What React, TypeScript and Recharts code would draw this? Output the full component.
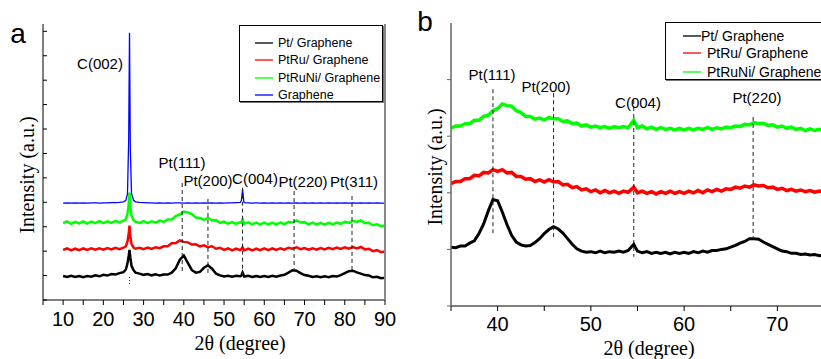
import React from "react";
import { LineChart, Line, XAxis, YAxis, ReferenceLine } from "recharts";

// ---- panel a: full scan 10-90 deg ----
const xA = [
  10, 11, 12, 13, 14, 15, 16, 17, 18, 19, 20, 21, 22, 23, 24, 25,
  25.6, 26, 26.3, 26.5, 26.7, 27, 27.5, 28,
  29, 30, 31, 32, 33, 34, 35, 36, 37, 38, 39, 40, 41, 42, 43, 44, 45, 46, 47, 48, 49, 50, 51, 52, 53, 54,
  54.3, 54.6, 54.9,
  55, 56, 57, 58, 59, 60, 61, 62, 63, 64, 65, 66, 67, 68, 69, 70, 71, 72, 73, 74, 75, 76, 77, 78, 79, 80, 81, 82, 83, 84, 85, 86, 87, 88, 89, 90,
];
const grapheneA = [
  3.97, 3.98, 3.97, 3.98, 3.97, 3.98, 3.97, 3.98, 3.98, 3.97, 3.98, 3.98, 3.99, 3.99, 4.0, 4.02,
  4.08, 4.35, 6.6, 10.94, 6.2, 4.35, 4.08, 4.02,
  4.0, 3.99, 3.98, 3.98, 3.97, 3.98, 3.97, 3.98, 3.97, 3.98, 3.98, 3.97, 3.98, 3.97, 3.98, 3.97, 3.98, 3.97, 3.98, 3.97, 3.98, 3.97, 3.98, 3.98, 3.99, 4.0,
  4.06, 4.52, 4.06,
  3.99, 3.98, 3.97, 3.98, 3.97, 3.98, 3.97, 3.98, 3.97, 3.98, 3.97, 3.98,
  3.97, 3.98, 3.97, 3.98, 3.97, 3.98, 3.97, 3.98, 3.97, 3.98, 3.97, 3.98,
  3.97, 3.98, 3.97, 3.98, 3.97, 3.98, 3.97, 3.98, 3.97, 3.98, 3.97, 3.97,
];
const ptRuNiA = [
  3.15, 3.22, 3.12, 3.2, 3.14, 3.22, 3.13, 3.21, 3.15, 3.23, 3.15, 3.22, 3.16, 3.24, 3.18, 3.25,
  3.3, 3.55, 3.9, 4.4, 3.8, 3.45, 3.28, 3.2,
  3.16, 3.23, 3.15, 3.22, 3.17, 3.25, 3.2, 3.3, 3.3, 3.44, 3.5, 3.62, 3.58, 3.52, 3.38, 3.36, 3.28, 3.36, 3.26, 3.27, 3.16, 3.21, 3.13, 3.19, 3.12, 3.18,
  3.16, 3.3, 3.17,
  3.12, 3.18, 3.1, 3.17, 3.1, 3.17, 3.1, 3.16, 3.1, 3.17, 3.11, 3.19, 3.17, 3.26, 3.17, 3.19, 3.1, 3.17, 3.09, 3.16, 3.09, 3.16, 3.1, 3.17, 3.12, 3.2, 3.16, 3.24, 3.2, 3.26, 3.14, 3.16, 3.06, 3.1, 3.02, 3.05,
];
const ptRuA = [
  2.05, 2.11, 2.03, 2.1, 2.04, 2.11, 2.05, 2.12, 2.06, 2.12, 2.06, 2.13, 2.07, 2.14, 2.08, 2.14,
  2.2, 2.4, 2.7, 3.05, 2.6, 2.3, 2.15, 2.1,
  2.14, 2.08, 2.15, 2.09, 2.16, 2.12, 2.2, 2.2, 2.32, 2.33, 2.44, 2.38, 2.36, 2.27, 2.28, 2.19, 2.24, 2.16, 2.2, 2.1, 2.14, 2.05, 2.11, 2.03, 2.1, 2.04,
  2.08, 2.16, 2.06,
  2.03, 2.1, 2.03, 2.1, 2.04, 2.11, 2.04, 2.11, 2.05, 2.12, 2.06, 2.14, 2.1, 2.16, 2.08, 2.13, 2.06, 2.12, 2.06, 2.13, 2.07, 2.14, 2.08, 2.15, 2.09, 2.16, 2.1, 2.17, 2.11, 2.17, 2.07, 2.1, 2.0, 2.04, 1.96, 1.99,
];
const ptA = [
  0.98, 0.94, 0.99, 0.94, 0.98, 0.93, 0.98, 0.95, 1.01, 0.97, 1.03, 1.0, 1.06, 1.04, 1.1, 1.14,
  1.25, 1.5, 1.8, 2.05, 1.75, 1.4, 1.22, 1.12,
  1.08, 1.03, 1.06, 1.01, 1.05, 1.0, 1.04, 1.04, 1.12, 1.3, 1.65, 1.82, 1.52, 1.22, 1.12, 1.15, 1.32, 1.42, 1.28, 1.08, 1.01, 0.96, 0.99, 0.95, 0.99, 0.97,
  1.0, 1.12, 1.0,
  0.96, 0.99, 0.94, 0.98, 0.94, 0.98, 0.94, 0.99, 0.95, 1.0, 1.03, 1.12, 1.22, 1.2, 1.1, 1.02, 0.99, 0.94, 0.97, 0.93, 0.97, 0.93, 0.98, 0.96, 1.02, 1.1, 1.18, 1.2, 1.13, 1.08, 1.02, 1.0, 0.93, 0.95, 0.89, 0.91,
];
const ticksXA = [5, 10, 15, 20, 25, 30, 35, 40, 45, 50, 55, 60, 65, 70, 75, 80, 85, 90];
const ticksYA = [0, 1, 2, 3, 4, 5, 6, 7, 8, 9, 10, 11];

// ---- panel b: zoom 35-75 deg ----
const xB = [
  35, 35.5, 36, 36.5, 37, 37.5, 38, 38.5, 39, 39.5,
  40, 40.5, 41, 41.5, 42, 42.5, 43, 43.5, 44, 44.5,
  45, 45.5, 46, 46.5, 47, 47.5, 48, 48.5, 49, 49.5,
  50, 50.5, 51, 51.5, 52, 52.5, 53, 53.5, 54, 54.6,
  55, 55.5, 56, 56.5, 57, 57.5, 58, 58.5, 59, 59.5,
  60, 60.5, 61, 61.5, 62, 62.5, 63, 63.5, 64, 64.5,
  65, 65.5, 66, 66.5, 67, 67.5, 68, 68.5, 69, 69.5,
  70, 70.5, 71, 71.5, 72, 72.5, 73, 73.5, 74, 74.5,
  75,
];
const ptB = [
  1.04, 1.03, 1.06, 1.06, 1.11, 1.15, 1.28, 1.45, 1.68, 1.88,
  1.86, 1.66, 1.44, 1.25, 1.13, 1.08, 1.06, 1.07, 1.12, 1.19,
  1.28, 1.35, 1.4, 1.36, 1.29, 1.19, 1.09, 1.01, 0.97, 0.95,
  0.96, 0.94, 0.97, 0.94, 0.96, 0.95, 0.97, 0.95, 0.98, 1.09,
  0.97, 0.94, 0.96, 0.93, 0.95, 0.93, 0.95, 0.92, 0.95, 0.93,
  0.95, 0.93, 0.96, 0.94, 0.97, 0.95, 0.98, 0.98, 1.0, 1.01,
  1.04, 1.07, 1.11, 1.14, 1.19, 1.19, 1.18, 1.13, 1.09, 1.05,
  1.01, 0.97, 0.96, 0.93, 0.93, 0.91, 0.92, 0.9, 0.91, 0.89,
  0.9,
];
const ptRuB = [
  2.16, 2.2, 2.2, 2.25, 2.25, 2.31, 2.3, 2.36, 2.35, 2.41,
  2.38, 2.41, 2.35, 2.36, 2.29, 2.29, 2.24, 2.25, 2.2, 2.23,
  2.19, 2.23, 2.19, 2.2, 2.14, 2.15, 2.09, 2.11, 2.05, 2.07,
  2.02, 2.05, 2.0, 2.04, 2.0, 2.03, 1.99, 2.03, 2.01, 2.1,
  2.0, 2.03, 1.99, 2.02, 1.98, 2.02, 1.99, 2.03, 1.99, 2.02,
  1.99, 2.03, 2.0, 2.04, 2.0, 2.05, 2.02, 2.06, 2.03, 2.07,
  2.06, 2.1, 2.08, 2.12, 2.1, 2.14, 2.12, 2.13, 2.09, 2.1,
  2.06, 2.08, 2.04, 2.06, 2.03, 2.05, 2.02, 2.04, 2.01, 2.03,
  2.01,
];
const ptRuNiB = [
  3.14, 3.18, 3.18, 3.22, 3.22, 3.28, 3.28, 3.35, 3.37, 3.45,
  3.49, 3.57, 3.54, 3.53, 3.45, 3.42, 3.35, 3.35, 3.3, 3.32,
  3.29, 3.33, 3.31, 3.31, 3.26, 3.27, 3.22, 3.23, 3.18, 3.2,
  3.16, 3.18, 3.15, 3.17, 3.14, 3.17, 3.15, 3.17, 3.15, 3.28,
  3.15, 3.18, 3.13, 3.16, 3.12, 3.15, 3.12, 3.14, 3.11, 3.14,
  3.11, 3.14, 3.11, 3.14, 3.12, 3.15, 3.12, 3.15, 3.13, 3.16,
  3.15, 3.18, 3.17, 3.21, 3.2, 3.24, 3.22, 3.23, 3.19, 3.2,
  3.16, 3.18, 3.14, 3.16, 3.12, 3.14, 3.1, 3.13, 3.1, 3.12,
  3.1,
];
const ticksXB = [35, 40, 45, 50, 55, 60, 65, 70, 75];
const ticksYB = [0, 1, 2, 3, 4];

// peak marker lines (x position, top, bottom in data units)
const dashA = [
  { x: 39.6, y1: 4.79, y2: 1.11 },
  { x: 46, y1: 4.14, y2: 1.11 },
  { x: 54.6, y1: 4.6, y2: 0.95 },
  { x: 67.4, y1: 4.46, y2: 1.23 },
  { x: 81.8, y1: 4.26, y2: 1.23 },
];
const dotA = { x: 26.5, y1: 0.94, y2: 0.57 };
const dashB = [
  { x: 39.5, y1: 3.83, y2: 1.25 },
  { x: 46, y1: 3.76, y2: 1.22 },
  { x: 54.6, y1: 3.64, y2: 0.87 },
  { x: 67.4, y1: 3.34, y2: 1.22 },
];

const rowsA = xA.map((x, i) => ({ x, pt: ptA[i], ptru: ptRuA[i], ptruni: ptRuNiA[i], gr: grapheneA[i] }));
const rowsB = xB.map((x, i) => ({ x, pt: ptB[i], ptru: ptRuB[i], ptruni: ptRuNiB[i] }));

const SANS = '"Liberation Sans", Arial, Helvetica, sans-serif';
const SERIF = '"Liberation Serif", "Times New Roman", serif';

const Tag = ({ x, y, size = 15, children, font = SANS }: any) => (
  <div
    style={{
      position: "absolute",
      left: x,
      top: y,
      transform: "translate(-50%, -50%)",
      fontSize: size,
      fontFamily: font,
      lineHeight: 1,
      whiteSpace: "nowrap",
      color: "#000",
    }}
  >
    {children}
  </div>
);

// legend sample line drawn as an svg stroke so the colour stays crisp
const LegendRow = ({ y, lx, tx, color, size, children }: any) => (
  <>
    <svg style={{ position: "absolute", left: lx, top: y - 2 }} width={18} height={4}>
      <line x1={0} y1={2} x2={18} y2={2} stroke={color} strokeWidth={1.3} />
    </svg>
    <div
      style={{
        position: "absolute",
        left: tx,
        top: y,
        transform: "translateY(-50%)",
        fontSize: size,
        lineHeight: 1,
        whiteSpace: "nowrap",
      }}
    >
      {children}
    </div>
  </>
);

const VTitle = ({ x, y }: any) => (
  <div
    style={{
      position: "absolute",
      left: x,
      top: y,
      transform: "translate(-50%, -50%) rotate(-90deg)",
      fontFamily: SERIF,
      fontSize: 20,
      lineHeight: 1,
      whiteSpace: "nowrap",
    }}
  >
    Intensity (a.u.)
  </div>
);

const blank = () => "";
const tens = (v: number) => (v % 10 === 0 ? String(v) : "");

export default function App() {
  return (
    <div
      style={{
        position: "absolute",
        left: 0,
        top: 0,
        width: 821,
        height: 359,
        overflow: "hidden",
        background: "#fff",
        fontFamily: SANS,
      }}
    >
      {/* panel a */}
      <div style={{ position: "absolute", left: 0, top: 0 }}>
        <LineChart width={400} height={359} data={rowsA} margin={{ top: 24, right: 0, left: 43, bottom: 29 }}>
          <XAxis
            dataKey="x"
            type="number"
            domain={[5, 90]}
            ticks={ticksXA}
            interval={0}
            tickFormatter={tens}
            tick={{ fontSize: 20, fill: "#000", fontFamily: SANS }}
            tickSize={5}
            tickMargin={7}
            axisLine={{ stroke: "#000" }}
            tickLine={{ stroke: "#000" }}
            height={30}
            allowDataOverflow
          />
          <XAxis
            xAxisId="top"
            orientation="top"
            dataKey="x"
            type="number"
            domain={[5, 90]}
            ticks={ticksXA}
            interval={0}
            tickFormatter={blank}
            mirror
            tickSize={3}
            axisLine={{ stroke: "#000" }}
            tickLine={{ stroke: "#000" }}
            height={0}
          />
          <YAxis
            type="number"
            domain={[0, 11.3]}
            ticks={ticksYA}
            interval={0}
            tickFormatter={blank}
            mirror
            tickSize={4}
            width={43}
            axisLine={{ stroke: "#000" }}
            tickLine={{ stroke: "#000" }}
          />
          <YAxis
            yAxisId="r"
            orientation="right"
            type="number"
            domain={[0, 11.3]}
            ticks={ticksYA}
            interval={0}
            tickFormatter={blank}
            tickSize={4}
            width={15}
            axisLine={{ stroke: "#888", strokeWidth: 2 }}
            tickLine={{ stroke: "#888" }}
          />
          <Line dataKey="pt" stroke="#000" strokeWidth={2.5} dot={false} isAnimationActive={false} />
          <Line dataKey="ptru" stroke="#ff0000" strokeWidth={2.5} dot={false} isAnimationActive={false} />
          <Line dataKey="ptruni" stroke="#00ff00" strokeWidth={2.5} dot={false} isAnimationActive={false} />
          <Line dataKey="gr" stroke="#0000ff" strokeWidth={1.3} dot={false} isAnimationActive={false} />
          {dashA.map((d) => (
            <ReferenceLine
              key={d.x}
              segment={[{ x: d.x, y: d.y1 }, { x: d.x, y: d.y2 }]}
              stroke="#222"
              strokeDasharray="4 3"
            />
          ))}
          <ReferenceLine
            segment={[{ x: dotA.x, y: dotA.y1 }, { x: dotA.x, y: dotA.y2 }]}
            stroke="#222"
            strokeDasharray="1 2"
          />
        </LineChart>
      </div>

      {/* panel b */}
      <div style={{ position: "absolute", left: 410, top: 0 }}>
        <LineChart width={430} height={359} data={rowsB} margin={{ top: 23, right: 16, left: 0, bottom: 23 }}>
          <XAxis
            dataKey="x"
            type="number"
            domain={[35, 75]}
            ticks={ticksXB}
            interval={0}
            tickFormatter={tens}
            tick={{ fontSize: 20, fill: "#000", fontFamily: SANS }}
            tickSize={5}
            tickMargin={6}
            axisLine={{ stroke: "#000" }}
            tickLine={{ stroke: "#000" }}
            height={30}
            allowDataOverflow
          />
          <XAxis
            xAxisId="top"
            orientation="top"
            dataKey="x"
            type="number"
            domain={[35, 75]}
            tickFormatter={blank}
            tickLine={false}
            axisLine={{ stroke: "#000" }}
            height={0}
          />
          <YAxis
            type="number"
            domain={[0, 5]}
            ticks={ticksYB}
            interval={0}
            tickFormatter={blank}
            tickSize={4}
            width={41}
            axisLine={{ stroke: "#666", strokeWidth: 1.5 }}
            tickLine={{ stroke: "#666" }}
          />
          <Line dataKey="pt" stroke="#000" strokeWidth={3} dot={false} isAnimationActive={false} />
          <Line dataKey="ptru" stroke="#ff0000" strokeWidth={3.5} dot={false} isAnimationActive={false} />
          <Line dataKey="ptruni" stroke="#00ff00" strokeWidth={3.5} dot={false} isAnimationActive={false} />
          {dashB.map((d) => (
            <ReferenceLine
              key={d.x}
              segment={[{ x: d.x, y: d.y1 }, { x: d.x, y: d.y2 }]}
              stroke="#222"
              strokeDasharray="4 3"
            />
          ))}
        </LineChart>
      </div>

      {/* peak labels */}
      <Tag x={100} y={63}>C(002)</Tag>
      <Tag x={182} y={162}>Pt(111)</Tag>
      <Tag x={208} y={180}>Pt(200)</Tag>
      <Tag x={255} y={178}>C(004)</Tag>
      <Tag x={303} y={181}>Pt(220)</Tag>
      <Tag x={354} y={181}>Pt(311)</Tag>

      <Tag x={492} y={74}>Pt(111)</Tag>
      <Tag x={546} y={86}>Pt(200)</Tag>
      <Tag x={638} y={102}>C(004)</Tag>
      <Tag x={757} y={97}>Pt(220)</Tag>

      {/* axis titles */}
      <VTitle x={27} y={175} />
      <Tag x={240} y={343} size={20} font={SERIF}>2θ (degree)</Tag>
      <VTitle x={435} y={167} />
      <Tag x={649} y={348} size={20} font={SERIF}>2θ (degree)</Tag>

      {/* panel letters */}
      <Tag x={18} y={34} size={28}>a</Tag>
      <Tag x={425} y={22} size={28}>b</Tag>

      {/* legend a */}
      <div
        style={{
          position: "absolute",
          left: 239,
          top: 25,
          width: 144,
          height: 77,
          border: "1px solid #000",
          boxShadow: "1px 1px 0 #777",
          background: "#fff",
          boxSizing: "border-box",
        }}
      >
        <LegendRow y={17} lx={15} tx={38} color="#000" size={12.5}>Pt/ Graphene</LegendRow>
        <LegendRow y={34} lx={15} tx={38} color="#ff0000" size={12.5}>PtRu/ Graphene</LegendRow>
        <LegendRow y={52} lx={15} tx={38} color="#00ff00" size={12.5}>PtRuNi/ Graphene</LegendRow>
        <LegendRow y={69} lx={15} tx={38} color="#0000ff" size={12.5}>Graphene</LegendRow>
      </div>

      {/* legend b */}
      <div
        style={{
          position: "absolute",
          left: 665,
          top: 22,
          width: 180,
          height: 58,
          border: "1px solid #000",
          boxShadow: "1px 1px 0 #777",
          background: "#fff",
          boxSizing: "border-box",
        }}
      >
        <LegendRow y={13} lx={17} tx={35} color="#000" size={14}>Pt/ Graphene</LegendRow>
        <LegendRow y={30} lx={17} tx={41} color="#ff0000" size={14}>PtRu/ Graphene</LegendRow>
        <LegendRow y={49} lx={17} tx={41} color="#00ff00" size={14}>PtRuNi/ Graphene</LegendRow>
      </div>
    </div>
  );
}
